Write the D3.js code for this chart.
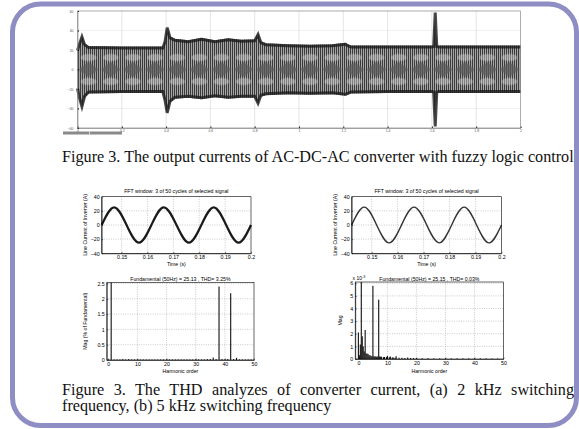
<!DOCTYPE html>
<html>
<head>
<meta charset="utf-8">
<script src="https://cdnjs.cloudflare.com/ajax/libs/d3/7.8.5/d3.min.js"></script>
<style>
  body { margin: 0; background: #fff; }
  svg { display: block; }
</style>
</head>
<body>
<div id="figure"></div>
<script>
let svgWidth = 579;
let svgHeight = 429;
let sans = "Liberation Sans, Arial, Helvetica, sans-serif";
let serif = "Liberation Serif, Times New Roman, serif";

// ---- values ----

// top plot: envelope of the output currents (A) against time (s)
let topTime  = [0, 0.008, 0.02, 0.032, 0.05, 0.2, 0.385, 0.395, 0.405, 0.418, 0.44, 0.5, 0.56, 0.62, 0.68, 0.74, 0.8, 0.815, 0.828, 0.85, 0.95, 1.05, 1.15, 1.21, 1.22, 1.235, 1.4, 1.6, 1.608, 1.615, 1.622, 1.63, 1.8, 2];
let topUpper = [21, 27, 35, 27, 24, 23.5, 23.5, 30, 44.5, 34, 31.5, 30, 32.5, 30, 32, 30.5, 31, 37.5, 29, 27, 26, 25.5, 26, 27.5, 26, 24.5, 24.5, 24.5, 25, 60, 25, 24.5, 24.5, 24.5];
let topLower = [-21, -30, -39.5, -29, -24.5, -24, -24, -33, -46, -34, -30, -29, -30.5, -28.5, -30, -29, -29, -36, -28, -26.5, -25.5, -26, -25.5, -27, -26, -24.5, -24, -24, -24.5, -60, -24.5, -24, -24, -24];
let topXTicks = [0, 0.2, 0.4, 0.6, 0.8, 1, 1.2, 1.4, 1.6, 1.8, 2];
let topYTicks = [-60, -40, -20, 0, 20, 40, 60];

// FFT windows: line current of inverter (A), 3 cycles
let fftTime  = [0.1423, 0.1471, 0.1519, 0.1567, 0.1615, 0.1663, 0.1712, 0.176, 0.1808, 0.1856, 0.1904, 0.1952, 0.2];
let currentA = [0, 25, 0, -25, 0, 25, 0, -25, 0, 25, 0, -25, 0];
let currentB = [0, 25.2, 0, -25.2, 0, 25.2, 0, -25.2, 0, 25.2, 0, -25.2, 0];
let timeTicks = [0.15, 0.16, 0.17, 0.18, 0.19, 0.2];
let currentTicks = [-40, -20, 0, 20, 40];

// (a) 2 kHz: harmonic spectrum, % of fundamental
let harmA = [0, 1, 2, 3, 4, 5, 6, 7, 8, 9, 10, 11, 12, 13, 14, 15, 16, 17, 18, 19, 20, 21, 22, 23, 24, 25, 26, 27, 28, 29, 30, 31, 32, 33, 34, 35, 36, 37, 38, 39, 40, 41, 42, 43, 44, 45, 46, 47, 48, 49, 50];
let magA  = [0.02, 100, 0.02, 0.02, 0.02, 0.03, 0.02, 0.03, 0.02, 0.02, 0.02, 0.02, 0.02, 0.02, 0.02, 0.02, 0.02, 0.02, 0.02, 0.02, 0.02, 0.02, 0.02, 0.02, 0.02, 0.02, 0.02, 0.02, 0.02, 0.02, 0.02, 0.02, 0.02, 0.02, 0.03, 0.03, 0.08, 0.03, 2.4, 0.03, 0.02, 0.03, 2.18, 0.03, 0.07, 0.02, 0.02, 0.02, 0.02, 0.02, 0.02];
let magATicks = [0, 0.5, 1, 1.5, 2, 2.5];

// (b) 5 kHz: harmonic spectrum, magnitude x 1e-3
let harmB = [0, 0.333, 0.667, 1, 1.333, 1.667, 2, 2.333, 2.667, 3, 3.333, 3.667, 4, 4.333, 4.667, 5, 5.333, 5.667, 6, 6.333, 6.667, 7, 7.333, 7.667, 8, 8.667, 9, 9.667, 10, 10.667, 11, 11.667, 12, 12.667, 13, 14, 15, 16, 17, 18, 19, 20, 22, 24, 26, 28, 30, 32, 34, 36, 38, 40, 42, 44, 46, 48, 50];
let magB  = [2.1, 0.3, 1.15, 25150, 1.8, 1.0, 0.6, 2.3, 0.45, 0.42, 0.4, 0.3, 0.3, 0.25, 0.22, 5.8, 0.22, 0.2, 0.2, 0.18, 0.2, 4.7, 0.2, 0.18, 0.18, 0.15, 0.16, 0.15, 0.25, 0.14, 0.2, 0.12, 0.12, 0.1, 0.22, 0.1, 0.1, 0.08, 0.12, 0.08, 0.07, 0.07, 0.06, 0.06, 0.05, 0.05, 0.05, 0.05, 0.05, 0.05, 0.05, 0.05, 0.05, 0.05, 0.04, 0.04, 0.04];
let magBTicks = [0, 1, 2, 3, 4, 5, 6];
let harmTicks = [0, 10, 20, 30, 40, 50];

let svg = d3.select("#figure")
  .append("svg")
  .attr("width", svgWidth)
  .attr("height", svgHeight);

let defs = svg.append("defs");

// rounded slide frame
svg.append("rect")
  .attr("x", 12.5).attr("y", 4)
  .attr("width", 564).attr("height", 421.5)
  .attr("rx", 28)
  .attr("fill", "#fff")
  .attr("stroke", "#8e8ec4")
  .attr("stroke-width", 5);

// ================= top plot =================
let xTop = d3.scaleLinear().domain([0, 2]).range([77.5, 520.5]);
let yTop = d3.scaleLinear().domain([-60, 60]).range([128, 11]);

// textures for the dense PWM band
let stripes = defs.append("pattern")
  .attr("id", "stripes")
  .attr("patternUnits", "userSpaceOnUse")
  .attr("width", 2).attr("height", 4);
stripes.append("rect").attr("width", 2).attr("height", 4).attr("fill", "#a6a6a6");
stripes.append("rect").attr("width", 1).attr("height", 4).attr("fill", "#3a3a3a");

let beatW = xTop(0.1) - xTop(0);
let beat = defs.append("pattern")
  .attr("id", "beat")
  .attr("patternUnits", "userSpaceOnUse")
  .attr("x", xTop(0)).attr("y", yTop(0) - 30)
  .attr("width", beatW).attr("height", 60);
beat.append("path")
  .attr("d", `M1,30 L${beatW / 2},22.5 L${beatW - 1},30 L${beatW / 2},37.5 Z`)
  .attr("fill", "#5a5a5a").attr("opacity", 0.75);
beat.append("ellipse")
  .attr("cx", beatW / 2).attr("cy", 18).attr("rx", beatW * 0.36).attr("ry", 3.6)
  .attr("fill", "#d6d6d6").attr("opacity", 0.45);
beat.append("ellipse")
  .attr("cx", beatW / 2).attr("cy", 42).attr("rx", beatW * 0.36).attr("ry", 3.6)
  .attr("fill", "#d6d6d6").attr("opacity", 0.45);

let topG = svg.append("g");

// grid
topG.selectAll(".vgrid").data(topXTicks).enter().append("line")
  .attr("x1", d => xTop(d)).attr("x2", d => xTop(d))
  .attr("y1", yTop(60)).attr("y2", yTop(-60))
  .attr("stroke", "#d4d4d4").attr("stroke-width", 0.6);
topG.selectAll(".hgrid").data(topYTicks).enter().append("line")
  .attr("x1", xTop(0)).attr("x2", xTop(2))
  .attr("y1", d => yTop(d)).attr("y2", d => yTop(d))
  .attr("stroke", "#cfcfcf").attr("stroke-width", 0.6)
  .attr("stroke-dasharray", "1,1");

let idx = d3.range(topTime.length);
let band = d3.area()
  .x(i => xTop(topTime[i]))
  .y0(i => yTop(topLower[i]))
  .y1(i => yTop(topUpper[i]));

topG.append("path").datum(idx).attr("d", band).attr("fill", "url(#stripes)");
topG.append("path").datum(idx).attr("d", band).attr("fill", "url(#beat)");

// dark envelope edges
topG.append("path").datum(idx)
  .attr("d", d3.line().x(i => xTop(topTime[i])).y(i => yTop(topUpper[i]) + 1.5))
  .attr("fill", "none").attr("stroke", "#1b1b1b").attr("stroke-width", 3).attr("opacity", 0.8);
topG.append("path").datum(idx)
  .attr("d", d3.line().x(i => xTop(topTime[i])).y(i => yTop(topLower[i]) - 1.5))
  .attr("fill", "none").attr("stroke", "#1b1b1b").attr("stroke-width", 3).attr("opacity", 0.8);

// axes
let topX = topG.append("g")
  .attr("transform", `translate(0, ${yTop(-60)})`)
  .call(d3.axisBottom(xTop).tickValues(topXTicks).tickSizeInner(-1.5).tickSizeOuter(0).tickPadding(1.6).tickFormat(d => d));
let topY = topG.append("g")
  .attr("transform", `translate(${xTop(0)}, 0)`)
  .call(d3.axisLeft(yTop).tickValues(topYTicks).tickSizeInner(-1.5).tickSizeOuter(0).tickPadding(4));
[topX, topY].forEach(a => {
  a.attr("font-size", 3.4).attr("font-family", sans).attr("fill", "#555");
  a.selectAll("text").attr("fill", "#555");
  a.select(".domain").attr("stroke", "#777").attr("stroke-width", 0.6);
});
topG.append("rect")
  .attr("x", xTop(0)).attr("y", yTop(60))
  .attr("width", xTop(2) - xTop(0)).attr("height", yTop(-60) - yTop(60))
  .attr("fill", "none").attr("stroke", "#888").attr("stroke-width", 0.6);

// scroll bar under the scope view
topG.append("rect").attr("x", 63).attr("y", 131.5).attr("width", 59).attr("height", 3).attr("fill", "#8a8a8a");
topG.append("rect").attr("x", 89).attr("y", 131.5).attr("width", 0.8).attr("height", 3).attr("fill", "#eee");

// caption of figure 3 (top)
let cap1 = svg.append("text")
  .attr("x", 62).attr("y", 162)
  .attr("font-family", serif).attr("font-size", 12).attr("fill", "#111")
  .text("Figure 3. The output currents of AC-DC-AC converter with fuzzy logic control");
let capSize = 12 * 512 / cap1.node().getComputedTextLength();
cap1.attr("font-size", capSize);

// ================= FFT window plots =================
function styleAxis(a) {
  a.attr("font-size", 5.3).attr("font-family", sans);
  a.select(".domain").attr("stroke-width", 0.6);
  a.selectAll(".tick line").attr("stroke-width", 0.5);
}

function drawLinePanel(left, right, values, strokeW, strokeC, yTitleX) {
  let x = d3.scaleLinear().domain([fftTime[0], 0.2]).range([left, right]);
  let y = d3.scaleLinear().domain([-40, 40]).range([253.3, 196.7]);
  let g = svg.append("g");

  g.selectAll(".vg").data(timeTicks.slice(0, -1)).enter().append("line")
    .attr("x1", d => x(d)).attr("x2", d => x(d))
    .attr("y1", y(40)).attr("y2", y(-40))
    .attr("stroke", "#999").attr("stroke-width", 0.5).attr("stroke-dasharray", "1,1.3");
  g.selectAll(".hg").data([-20, 0, 20]).enter().append("line")
    .attr("x1", left).attr("x2", right)
    .attr("y1", d => y(d)).attr("y2", d => y(d))
    .attr("stroke", "#999").attr("stroke-width", 0.5).attr("stroke-dasharray", "1,1.3");

  g.append("path").datum(d3.range(fftTime.length))
    .attr("d", d3.line().x(i => x(fftTime[i])).y(i => y(values[i])).curve(d3.curveNatural))
    .attr("fill", "none").attr("stroke", strokeC).attr("stroke-width", strokeW);

  g.append("rect")
    .attr("x", left).attr("y", y(40))
    .attr("width", right - left).attr("height", y(-40) - y(40))
    .attr("fill", "none").attr("stroke", "#000").attr("stroke-width", 0.6);

  let ax = g.append("g").attr("transform", `translate(0, ${y(-40)})`)
    .call(d3.axisBottom(x).tickValues(timeTicks).tickSizeInner(-1.5).tickSizeOuter(0).tickPadding(2.4).tickFormat(d3.format(".2~f")));
  let ay = g.append("g").attr("transform", `translate(${left}, 0)`)
    .call(d3.axisLeft(y).tickValues(currentTicks).tickSizeInner(-1.5).tickSizeOuter(0).tickPadding(2));
  styleAxis(ax);
  styleAxis(ay);

  g.append("text")
    .attr("x", (left + right) / 2).attr("y", 192.5)
    .attr("text-anchor", "middle").attr("font-family", sans).attr("font-size", 5.2)
    .text("FFT window: 3 of 50 cycles of selected signal");
  g.append("text")
    .attr("x", (left + right) / 2).attr("y", 266.3)
    .attr("text-anchor", "middle").attr("font-family", sans).attr("font-size", 5.2)
    .text("Time (s)");
  g.append("text")
    .attr("transform", `translate(${yTitleX}, 225) rotate(-90)`)
    .attr("text-anchor", "middle").attr("font-family", sans).attr("font-size", 5.2)
    .text("Line Current of Inverter (A)");
}

drawLinePanel(101.7, 251, currentA, 2.2, "#1a1a1a", 87);
drawLinePanel(351.7, 501.5, currentB, 1.4, "#333", 337);

// ================= harmonic spectra =================
function drawBarPanel(p) {
  let x = d3.scaleLinear().domain(p.xDomain).range([p.left, p.right]);
  let y = d3.scaleLinear().domain(p.yDomain).range([p.bottom, p.top]);
  let g = svg.append("g");

  g.selectAll(".vg").data(harmTicks.slice(1, -1)).enter().append("line")
    .attr("x1", d => x(d)).attr("x2", d => x(d))
    .attr("y1", p.top).attr("y2", p.bottom)
    .attr("stroke", "#999").attr("stroke-width", 0.5).attr("stroke-dasharray", "1,1.3");
  g.selectAll(".hg").data(p.yTicks.slice(1)).enter().append("line")
    .attr("x1", p.left).attr("x2", p.right)
    .attr("y1", d => y(d)).attr("y2", d => y(d))
    .attr("stroke", "#999").attr("stroke-width", 0.5).attr("stroke-dasharray", "1,1.3");

  defs.append("clipPath").attr("id", p.id)
    .append("rect")
    .attr("x", p.left).attr("y", p.top)
    .attr("width", p.right - p.left).attr("height", p.bottom - p.top);

  g.append("g").attr("clip-path", `url(#${p.id})`)
    .selectAll("rect").data(d3.range(p.orders.length)).enter().append("rect")
    .attr("x", i => x(p.orders[i]) - 0.55)
    .attr("y", i => y(p.mags[i]))
    .attr("width", 1.1)
    .attr("height", i => y(0) - y(p.mags[i]))
    .attr("fill", "#111");

  g.append("rect")
    .attr("x", p.left).attr("y", p.top)
    .attr("width", p.right - p.left).attr("height", p.bottom - p.top)
    .attr("fill", "none").attr("stroke", "#000").attr("stroke-width", 0.6);

  let ax = g.append("g").attr("transform", `translate(0, ${p.bottom})`)
    .call(d3.axisBottom(x).tickValues(harmTicks).tickSizeInner(-1.5).tickSizeOuter(0).tickPadding(2.4));
  let ay = g.append("g").attr("transform", `translate(${p.left}, 0)`)
    .call(d3.axisLeft(y).tickValues(p.yTicks).tickSizeInner(-1.5).tickSizeOuter(0).tickPadding(2).tickFormat(d3.format("~g")));
  styleAxis(ax);
  styleAxis(ay);

  g.append("text")
    .attr("x", (p.left + p.right) / 2).attr("y", 280.5)
    .attr("text-anchor", "middle").attr("font-family", sans).attr("font-size", 5.2)
    .text(p.title);
  g.append("text")
    .attr("x", (p.left + p.right) / 2).attr("y", 372.6)
    .attr("text-anchor", "middle").attr("font-family", sans).attr("font-size", 5.2)
    .text("Harmonic order");
  g.append("text")
    .attr("transform", `translate(${p.yTitleX}, ${(p.top + p.bottom) / 2}) rotate(-90)`)
    .attr("text-anchor", "middle").attr("font-family", sans).attr("font-size", 5.2)
    .text(p.yTitle);
  return g;
}

drawBarPanel({
  id: "clipA", left: 106.8, right: 254, top: 282.5, bottom: 360,
  xDomain: [-0.5, 50], yDomain: [0, 2.53], yTicks: magATicks,
  orders: harmA, mags: magA,
  title: "Fundamental (50Hz) = 25.13 , THD= 3.25%",
  yTitle: "Mag (% of Fundamental)", yTitleX: 87
});

let panelB = drawBarPanel({
  id: "clipB", left: 355.2, right: 503.5, top: 282, bottom: 359,
  xDomain: [-1.1, 50], yDomain: [0, 6.1], yTicks: magBTicks,
  orders: harmB, mags: magB,
  title: "Fundamental (50Hz) = 25.15 , THD= 0.03%",
  yTitle: "Mag", yTitleX: 341.5
});
// axis exponent label
let expo = panelB.append("text")
  .attr("x", 352.5).attr("y", 280)
  .attr("font-family", sans).attr("font-size", 5);
expo.append("tspan").text("x 10");
expo.append("tspan").attr("dy", -2).attr("font-size", 3.6).text("-3");

// caption of figure 3 (bottom), first line justified
let cap2 = svg.append("text")
  .attr("x", 62).attr("y", 395)
  .attr("font-family", serif).attr("font-size", capSize).attr("fill", "#111")
  .text("Figure 3. The THD analyzes of converter current, (a) 2 kHz switching");
let gaps = cap2.text().split(" ").length - 1;
let extra = (512 - cap2.node().getComputedTextLength()) / gaps;
cap2.attr("word-spacing", extra);

svg.append("text")
  .attr("x", 62).attr("y", 410.5)
  .attr("font-family", serif).attr("font-size", capSize).attr("fill", "#111")
  .text("frequency, (b) 5 kHz switching frequency");
</script>
</body>
</html>
